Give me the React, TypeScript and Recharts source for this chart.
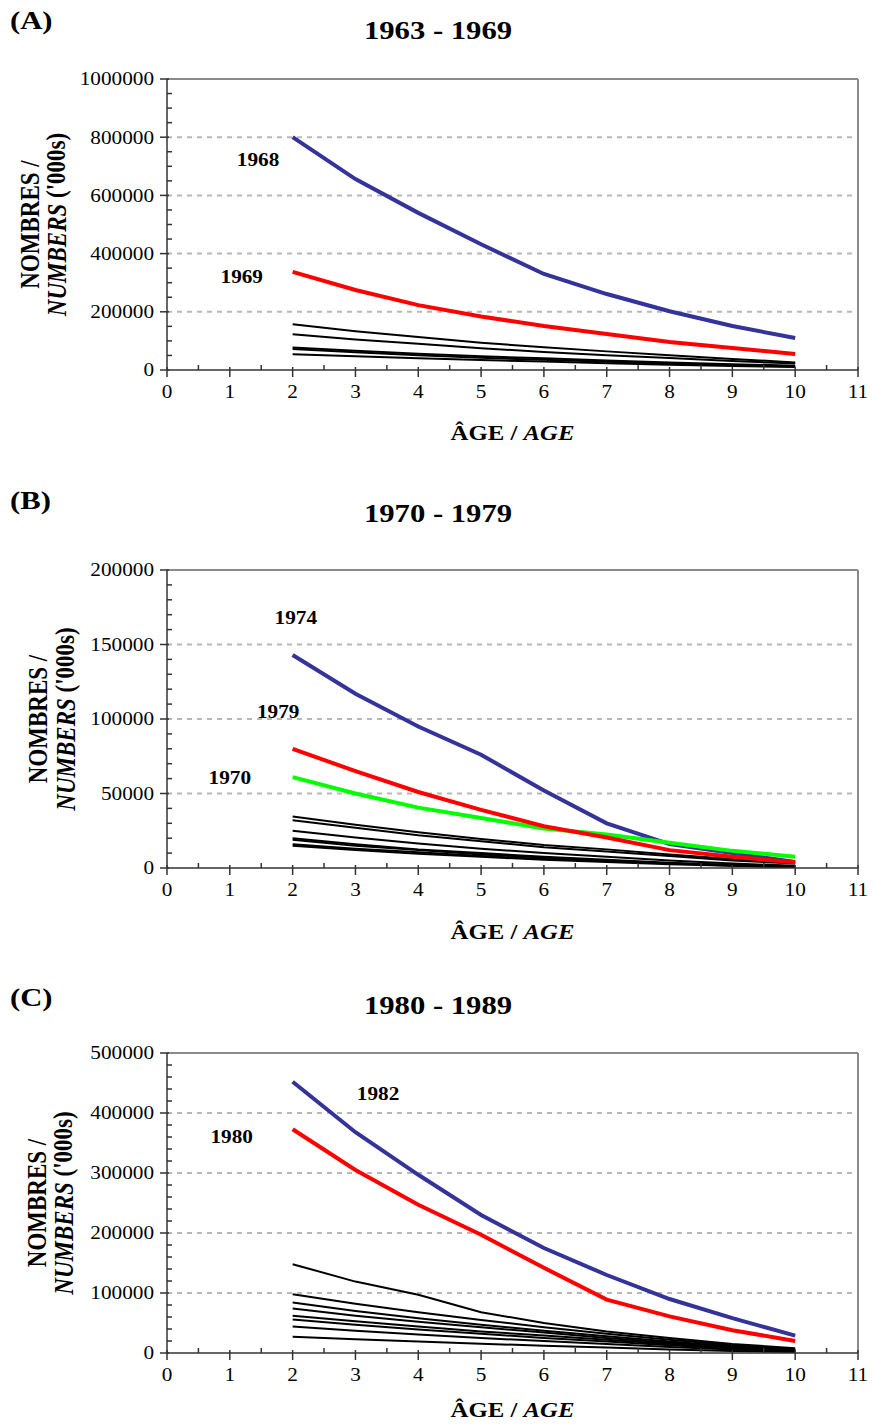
import React from 'react';
import { LineChart, Line, XAxis, YAxis, ReferenceLine, ReferenceDot } from 'recharts';

const FONT = '"Liberation Serif", "Times New Roman", Times, serif';
const SX = 1.18;
const AXIS = '#333333';
const FRAME = '#8a8a8a';
const GRID = '#b8b8b8';
const BLUE = '#333399';
const RED = '#ff0000';
const GREEN = '#00ff00';
const BLACK = '#000000';

// ---------- shared ----------
const AGES = [2, 3, 4, 5, 6, 7, 8, 9, 10];
const X_MAJOR = [0, 1, 2, 3, 4, 5, 6, 7, 8, 9, 10, 11];

// ---------- Panel A : 1963 - 1969 ----------
const A_1968 = [800000, 656000, 540000, 432000, 330000, 261000, 202000, 151000, 110000];
const A_1969 = [337000, 275000, 223000, 184000, 151000, 124000, 96000, 76000, 55000];
const A_OTHER_1 = [157000, 133000, 113000, 94000, 78000, 64000, 51000, 38000, 26000];
const A_OTHER_2 = [123000, 105000, 90000, 75000, 62000, 51000, 41000, 31000, 22000];
const A_OTHER_3 = [77000, 66000, 56000, 47000, 40000, 33000, 26000, 20000, 15000];
const A_OTHER_4 = [72000, 61000, 51000, 42000, 35000, 28000, 22000, 17000, 12000];
const A_OTHER_5 = [54000, 47000, 40000, 34000, 29000, 23000, 18000, 14000, 10000];
const A_Y_MAJOR = [0, 200000, 400000, 600000, 800000, 1000000];

// ---------- Panel B : 1970 - 1979 ----------
const B_1974 = [143000, 117000, 95000, 76000, 52000, 30000, 16000, 10000, 4000];
const B_1979 = [80000, 65000, 51000, 39000, 28000, 20500, 12000, 7500, 3800];
const B_1970 = [61000, 50000, 40500, 33500, 26500, 22500, 17000, 11500, 7600];
const B_OTHER_1 = [34500, 29000, 24000, 19500, 15500, 12500, 9000, 6000, 3500];
const B_OTHER_2 = [32000, 27000, 22000, 18000, 14000, 11000, 8000, 5000, 3000];
const B_OTHER_3 = [25000, 20500, 16500, 13000, 10000, 7500, 5000, 3000, 1500];
const B_OTHER_4 = [20000, 16000, 12500, 10000, 7500, 5500, 3500, 2000, 1000];
const B_OTHER_5 = [19000, 15000, 12000, 9000, 7000, 5000, 3000, 2000, 1000];
const B_OTHER_6 = [16000, 13000, 10500, 8000, 6000, 4500, 3000, 1500, 800];
const B_OTHER_7 = [15000, 12000, 9500, 7500, 5500, 4000, 2500, 1500, 500];
const B_Y_MAJOR = [0, 50000, 100000, 150000, 200000];

// ---------- Panel C : 1980 - 1989 ----------
const C_1982 = [452000, 368000, 297000, 230000, 175000, 130000, 90000, 58000, 29000];
const C_1980 = [373000, 305000, 247000, 197000, 142000, 89000, 61000, 38000, 20000];
const C_OTHER_1 = [148000, 119000, 97000, 68000, 50000, 36000, 25000, 15000, 8000];
const C_OTHER_2 = [98000, 82000, 68000, 55000, 43000, 32000, 22000, 13000, 6000];
const C_OTHER_3 = [84000, 70000, 58000, 47000, 37000, 28000, 19000, 11000, 5000];
const C_OTHER_4 = [74000, 62000, 52000, 43000, 34000, 25000, 17000, 10000, 4500];
const C_OTHER_5 = [62000, 53000, 44000, 36000, 29000, 22000, 15000, 9000, 4000];
const C_OTHER_6 = [56000, 47000, 39000, 32000, 25000, 19000, 13000, 7500, 3500];
const C_OTHER_7 = [44000, 37000, 31000, 25000, 20000, 15000, 10000, 6000, 2500];
const C_OTHER_8 = [27000, 23000, 19000, 15500, 12000, 9000, 6000, 3500, 1500];
const C_Y_MAJOR = [0, 100000, 200000, 300000, 400000, 500000];

type Series = { name: string; values: number[]; color: string; width: number };
type Note = { text: string; age: number; value: number };

const thin = (name: string, values: number[]): Series => ({ name, values, color: BLACK, width: 2 });
const thick = (name: string, values: number[], color: string): Series => ({ name, values, color, width: 4 });

const SERIES_A: Series[] = [
  thin('a1', A_OTHER_1), thin('a2', A_OTHER_2), thin('a3', A_OTHER_3), thin('a4', A_OTHER_4), thin('a5', A_OTHER_5),
  thick('y1968', A_1968, BLUE), thick('y1969', A_1969, RED),
];
const SERIES_B: Series[] = [
  thin('b1', B_OTHER_1), thin('b2', B_OTHER_2), thin('b3', B_OTHER_3), thin('b4', B_OTHER_4),
  thin('b5', B_OTHER_5), thin('b6', B_OTHER_6), thin('b7', B_OTHER_7),
  thick('y1974', B_1974, BLUE), thick('y1970', B_1970, GREEN), thick('y1979', B_1979, RED),
];
const SERIES_C: Series[] = [
  thin('c1', C_OTHER_1), thin('c2', C_OTHER_2), thin('c3', C_OTHER_3), thin('c4', C_OTHER_4),
  thin('c5', C_OTHER_5), thin('c6', C_OTHER_6), thin('c7', C_OTHER_7), thin('c8', C_OTHER_8),
  thick('y1982', C_1982, BLUE), thick('y1980', C_1980, RED),
];

const NOTES_A: Note[] = [
  { text: '1968', age: 1.45, value: 722000 },
  { text: '1969', age: 1.19, value: 320000 },
];
const NOTES_B: Note[] = [
  { text: '1974', age: 2.05, value: 168000 },
  { text: '1979', age: 1.77, value: 105000 },
  { text: '1970', age: 1.0, value: 61000 },
];
const NOTES_C: Note[] = [
  { text: '1982', age: 3.36, value: 433000 },
  { text: '1980', age: 1.03, value: 360000 },
];

function buildRows(series: Series[]) {
  return AGES.map((age, i) => {
    const row: Record<string, number> = { age };
    series.forEach((s) => {
      row[s.name] = s.values[i];
    });
    return row;
  });
}

function SText(props: {
  x: number; y: number; size: number; bold?: boolean; anchor?: 'start' | 'middle' | 'end';
  rotate?: boolean; children: React.ReactNode;
}) {
  const { x, y, size, bold, anchor = 'middle', rotate, children } = props;
  const transform = rotate
    ? `translate(${x},${y}) rotate(-90) scale(1,${SX})`
    : `translate(${x},${y}) scale(${SX},1)`;
  return (
    <text
      transform={transform}
      textAnchor={anchor}
      dominantBaseline="central"
      fontSize={size}
      fontWeight={bold ? 'bold' : 'normal'}
      fontFamily={FONT}
      fill="#000"
    >
      {children}
    </text>
  );
}

const PLOT_TOP = 79;
const Y_AXIS_W = 167;
const RIGHT_M = 15;

type PanelProps = {
  top: number;
  plotH: number;
  xAxisH: number;
  letter: string;
  letterY: number;
  title: string;
  titleY: number;
  yMajor: number[];
  yMinorStep: number;
  series: Series[];
  notes: Note[];
  yLabelX: [number, number];
  xLabelDy: number;
};

function Panel(p: PanelProps) {
  const height = PLOT_TOP + p.plotH + p.xAxisH;
  const yMax = p.yMajor[p.yMajor.length - 1];
  const yTicks: number[] = [];
  for (let v = 0; v <= yMax + 1e-6; v += p.yMinorStep) yTicks.push(Math.round(v));
  const xTicks: number[] = [];
  for (let v = 0; v <= 11 + 1e-6; v += 0.5) xTicks.push(v);
  const rows = buildRows(p.series);
  const plotCenterY = PLOT_TOP + p.plotH / 2;
  const plotCenterX = (Y_AXIS_W + (873 - RIGHT_M)) / 2;

  const XTick = (t: any) => {
    const { x, y, payload } = t;
    const v = payload.value as number;
    const major = Math.abs(v - Math.round(v)) < 1e-6;
    return (
      <g>
        {major ? (
          <line x1={x} x2={x} y1={y - 3} y2={y + 7} stroke={AXIS} strokeWidth={1.5} />
        ) : (
          <line x1={x} x2={x} y1={y - 5} y2={y} stroke={AXIS} strokeWidth={1.5} />
        )}
        {major && X_MAJOR.includes(v) && (
          <SText x={x} y={y + 22} size={18}>
            {String(v)}
          </SText>
        )}
      </g>
    );
  };

  const YTick = (t: any) => {
    const { x, y, payload } = t;
    const v = payload.value as number;
    const major = p.yMajor.includes(v);
    return (
      <g>
        {major ? (
          <line x1={x - 7} x2={x + 2} y1={y} y2={y} stroke={AXIS} strokeWidth={1.5} />
        ) : (
          <line x1={x} x2={x + 5} y1={y} y2={y} stroke={AXIS} strokeWidth={1.5} />
        )}
        {major && (
          <SText x={x - 13} y={y} size={18} anchor="end">
            {String(v)}
          </SText>
        )}
      </g>
    );
  };

  return (
    <div style={{ position: 'absolute', left: 0, top: p.top, width: 873, height }}>
      <LineChart
        width={873}
        height={height}
        data={rows}
        margin={{ top: PLOT_TOP, right: RIGHT_M, left: 0, bottom: 0 }}
      >
        <XAxis
          dataKey="age"
          type="number"
          domain={[0, 11]}
          ticks={xTicks}
          interval={0}
          height={p.xAxisH}
          tickSize={0}
          tickMargin={0}
          tickLine={false}
          axisLine={{ stroke: AXIS, strokeWidth: 1.5 }}
          tick={(t: any) => <XTick {...t} />}
          allowDataOverflow
        />
        <YAxis
          type="number"
          domain={[0, yMax]}
          ticks={yTicks}
          interval={0}
          width={Y_AXIS_W}
          tickSize={0}
          tickMargin={0}
          tickLine={false}
          axisLine={{ stroke: AXIS, strokeWidth: 1.5 }}
          tick={(t: any) => <YTick {...t} />}
          allowDataOverflow
        />
        {p.yMajor
          .filter((v) => v > 0 && v < yMax)
          .map((v) => (
            <ReferenceLine key={'g' + v} y={v} stroke={GRID} strokeWidth={2} strokeDasharray="5 5" />
          ))}
        <ReferenceLine y={yMax} stroke={FRAME} strokeWidth={2} />
        <ReferenceLine x={11} stroke={FRAME} strokeWidth={2} />
        {p.series.map((s) => (
          <Line
            key={s.name}
            dataKey={s.name}
            type="linear"
            stroke={s.color}
            strokeWidth={s.width}
            dot={false}
            activeDot={false}
            isAnimationActive={false}
          />
        ))}
        {p.notes.map((n) => (
          <ReferenceDot
            key={n.text}
            x={n.age}
            y={n.value}
            r={1}
            shape={(d: any) => (
              <SText x={d.cx} y={d.cy} size={18} bold>
                {n.text}
              </SText>
            )}
          />
        ))}
      </LineChart>
      <svg
        width={873}
        height={height}
        overflow="visible"
        style={{ position: 'absolute', left: 0, top: 0, pointerEvents: 'none', overflow: 'visible' }}
      >
        <SText x={10} y={p.letterY} size={26} bold anchor="start">
          {p.letter}
        </SText>
        <SText x={438} y={p.titleY} size={26} bold>
          {p.title}
        </SText>
        <SText x={p.yLabelX[0]} y={plotCenterY} size={23} bold rotate>
          NOMBRES /
        </SText>
        <SText x={p.yLabelX[1]} y={plotCenterY} size={23} bold rotate>
          <tspan fontStyle="italic">NUMBERS</tspan> ('000s)
        </SText>
        <SText x={plotCenterX} y={PLOT_TOP + p.plotH + p.xLabelDy} size={21} bold>
          ÂGE / <tspan fontStyle="italic">AGE</tspan>
        </SText>
      </svg>
    </div>
  );
}

export default function App() {
  return (
    <div style={{ position: 'absolute', left: 0, top: 0, width: 873, height: 1427, background: '#fff', overflow: 'hidden' }}>
      <Panel
        top={0}
        plotH={291}
        xAxisH={90}
        letter="(A)"
        letterY={20}
        title="1963 - 1969"
        titleY={30}
        yMajor={A_Y_MAJOR}
        yMinorStep={50000}
        series={SERIES_A}
        notes={NOTES_A}
        yLabelX={[30, 56]}
        xLabelDy={63}
      />
      <Panel
        top={491}
        plotH={298}
        xAxisH={90}
        letter="(B)"
        letterY={9}
        title="1970 - 1979"
        titleY={22}
        yMajor={B_Y_MAJOR}
        yMinorStep={10000}
        series={SERIES_B}
        notes={NOTES_B}
        yLabelX={[38, 65]}
        xLabelDy={64}
      />
      <Panel
        top={974}
        plotH={300}
        xAxisH={74}
        letter="(C)"
        letterY={23}
        title="1980 - 1989"
        titleY={31}
        yMajor={C_Y_MAJOR}
        yMinorStep={20000}
        series={SERIES_C}
        notes={NOTES_C}
        yLabelX={[37, 63]}
        xLabelDy={57}
      />
    </div>
  );
}
